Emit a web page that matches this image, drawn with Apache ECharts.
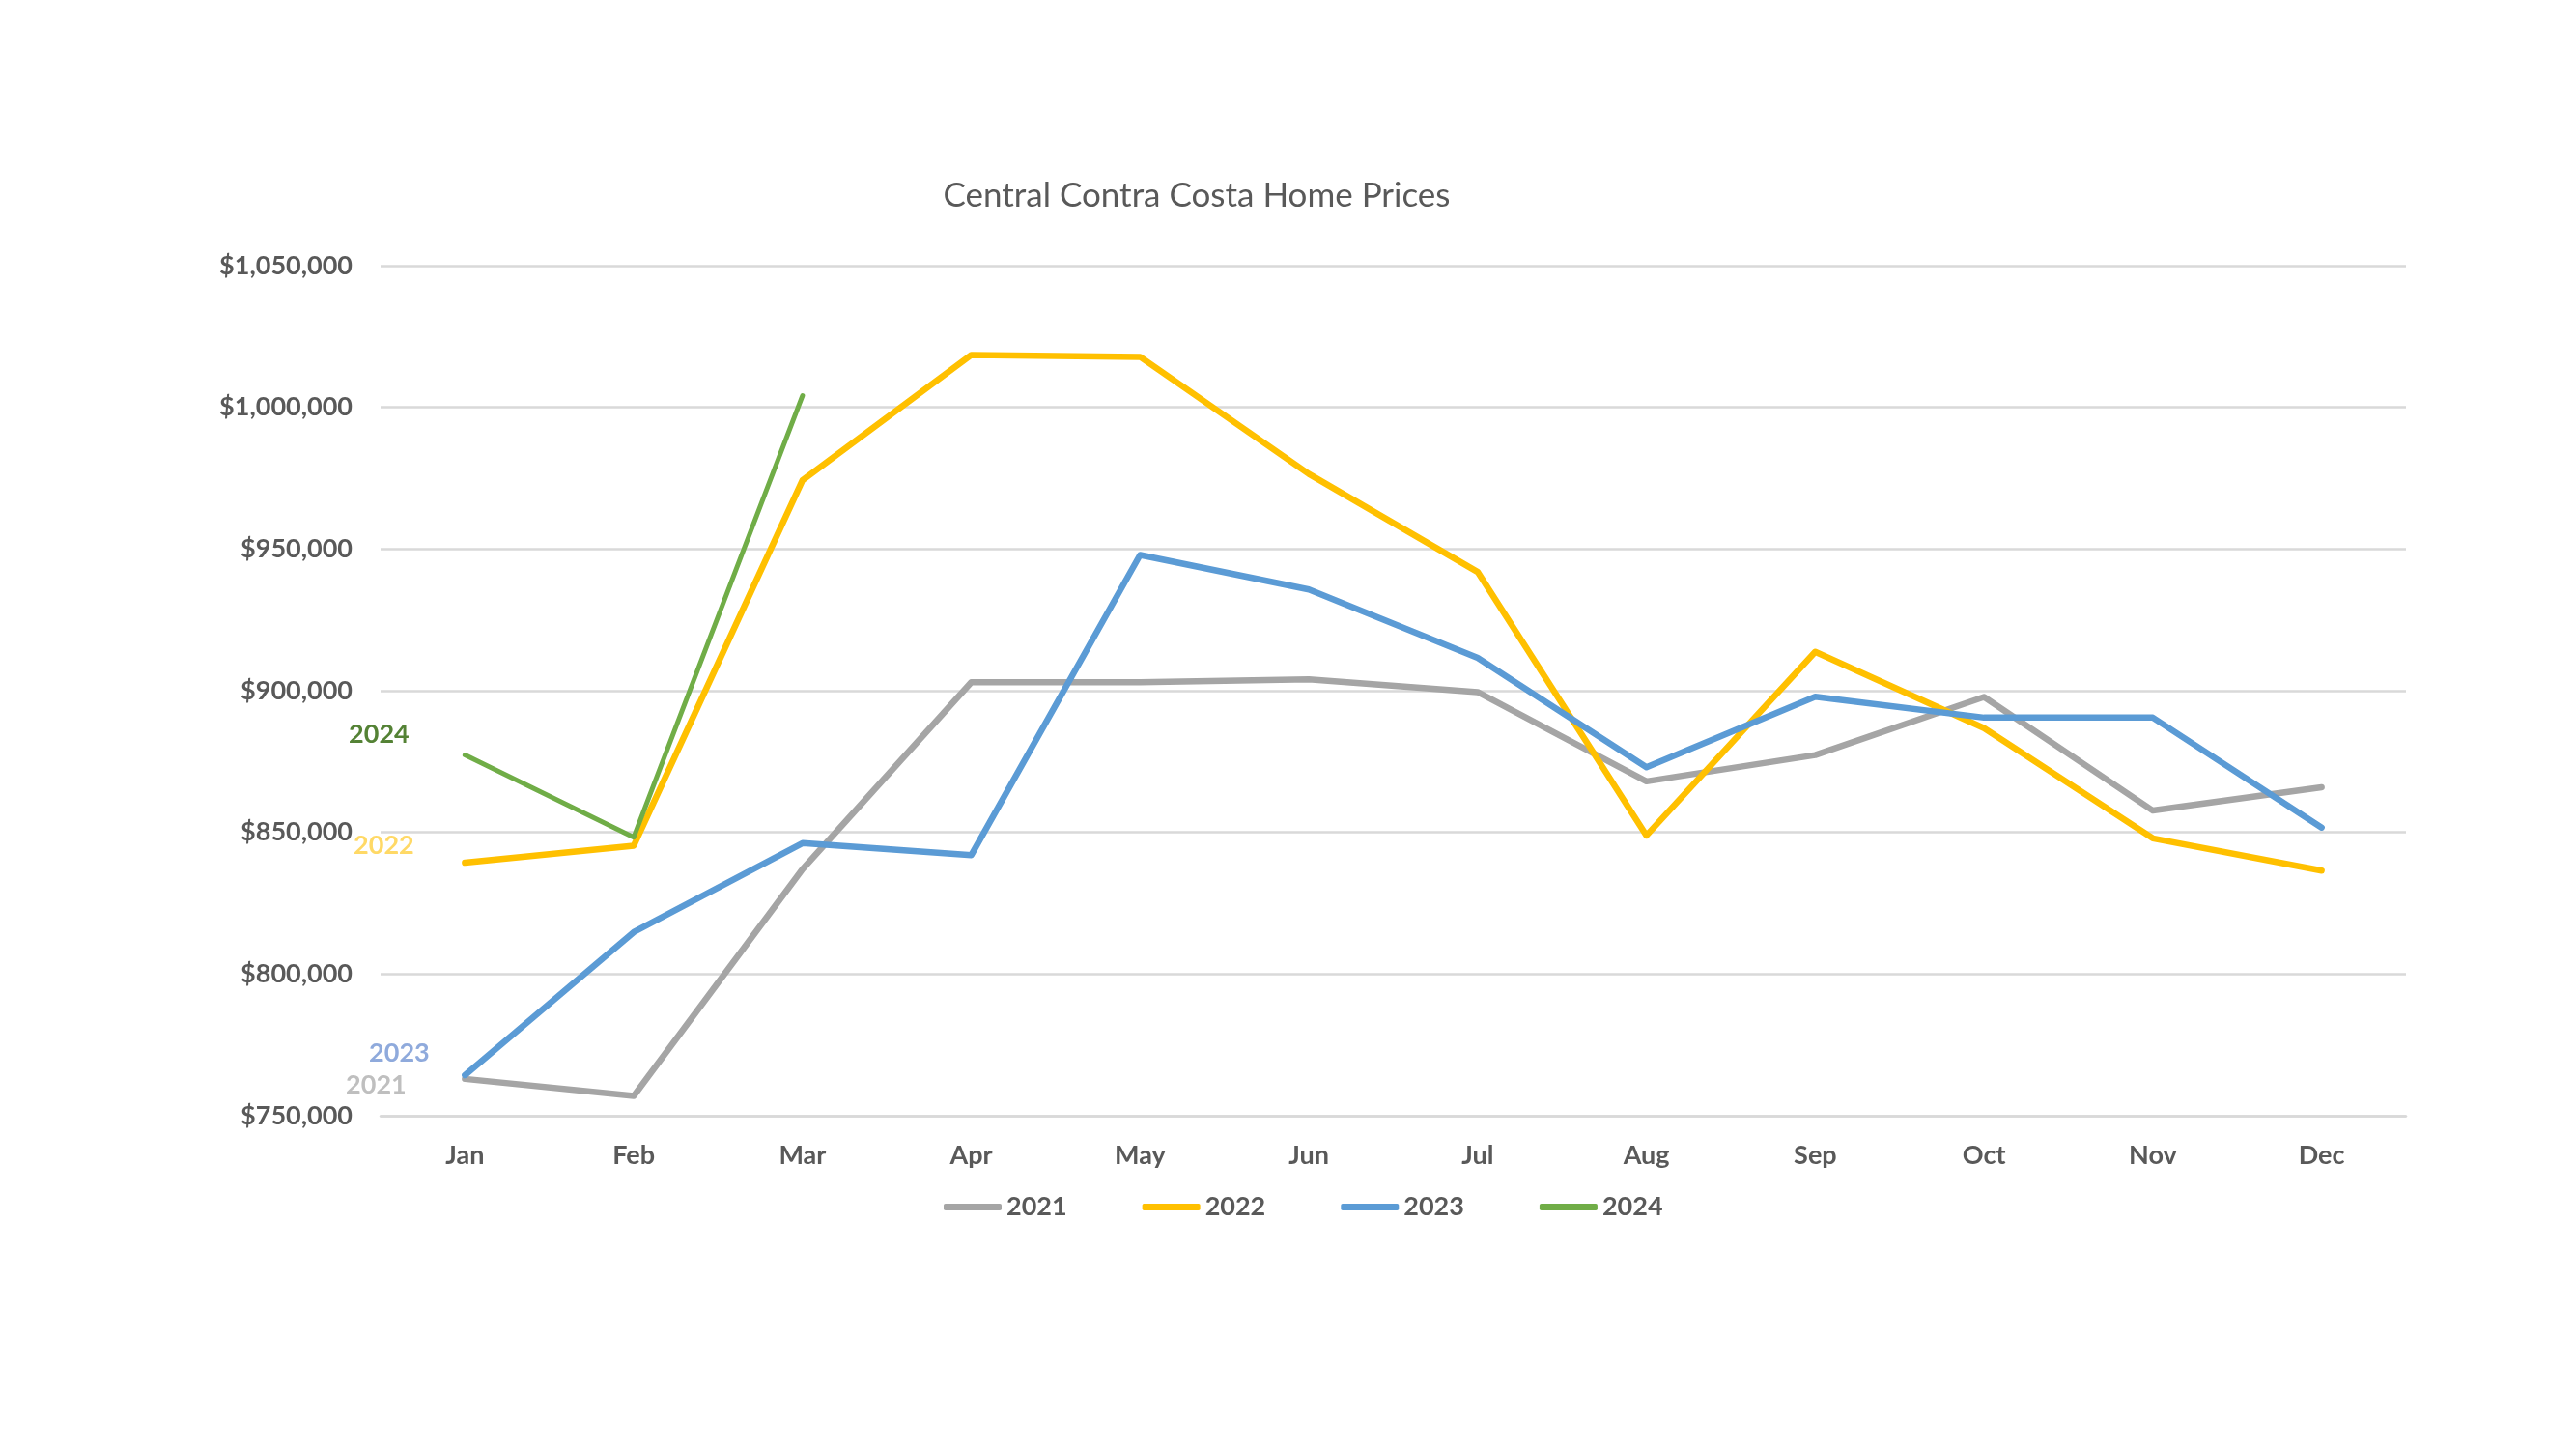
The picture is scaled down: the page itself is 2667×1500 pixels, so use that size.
<!DOCTYPE html>
<html>
<head>
<meta charset="utf-8">
<title>Central Contra Costa Home Prices</title>
<script src="https://cdn.jsdelivr.net/npm/echarts@6/dist/echarts.min.js"></script>
<style>
  html, body { margin: 0; padding: 0; background: #fff; }
  #chart { width: 2667px; height: 1500px; }
</style>
</head>
<body>
<div id="chart"></div>
<script>
// 月份
var months = ["Jan", "Feb", "Mar", "Apr", "May", "Jun", "Jul", "Aug", "Sep", "Oct", "Nov", "Dec"];

// 每年的房价
var prices2021 = [763000, 757000, 837000, 903000, 903000, 904000, 899500, 868000, 877300, 897800, 857700, 865900];
var prices2022 = [839300, 845300, 974300, 1018500, 1017800, 976500, 941900, 848900, 913700, 886800, 847900, 836500];
var prices2023 = [764300, 814800, 846200, 842000, 947900, 935700, 911600, 873000, 897900, 890500, 890500, 851700];
var prices2024 = [877300, 848300, 1004100];

var years = ["2021", "2022", "2023", "2024"];

var FONT = "Lato";
var TEXT = "#595959";

// 线和起点标签的样式
var looks = [
    { data: prices2021, color: "#A5A5A5", width: 6.5, labelColor: "#BFBFBF", offset: [-92, 6] },
    { data: prices2022, color: "#FFC000", width: 6.5, labelColor: "#FFD966", offset: [-84, -18] },
    { data: prices2023, color: "#5B9BD5", width: 6.5, labelColor: "#8FAADC", offset: [-68, -23] },
    { data: prices2024, color: "#70AD47", width: 5, labelColor: "#548235", offset: [-89, -21] }
];

var series = looks.map(function (s, k) {
    return {
        name: years[k],
        type: "line",
        symbol: "circle",
        symbolSize: 1,
        showSymbol: true,
        itemStyle: { color: s.color },
        lineStyle: { color: s.color, width: s.width, cap: "round", join: "round" },
        emphasis: { disabled: true },
        data: s.data.map(function (v, i) {
            if (i !== 0) {
                return v;
            }
            // 一月那一点左边写年份
            return {
                value: v,
                label: {
                    show: true,
                    position: "inside",
                    offset: s.offset,
                    formatter: years[k],
                    color: s.labelColor,
                    fontFamily: FONT,
                    fontWeight: "bold",
                    fontSize: 27
                }
            };
        })
    };
});

var chart = echarts.init(document.getElementById("chart"));

chart.setOption({
    animation: false,
    backgroundColor: "#ffffff",
    title: {
        text: "Central Contra Costa Home Prices",
        left: 1234,
        top: 180,
        textAlign: "center",
        textStyle: { fontFamily: FONT, fontWeight: "normal", fontSize: 35, color: TEXT }
    },
    legend: {
        data: years,
        left: 972,
        top: 1231,
        icon: "roundRect",
        itemWidth: 60,
        itemHeight: 7,
        itemGap: 78,
        textStyle: { fontFamily: FONT, fontWeight: "bold", fontSize: 27, color: TEXT }
    },
    grid: { left: 394, right: 176, top: 275, bottom: 345, containLabel: false },
    xAxis: {
        type: "category",
        data: months,
        boundaryGap: true,
        axisLine: { show: true, lineStyle: { color: "#D9D9D9", width: 2.5 } },
        axisTick: { show: false },
        axisLabel: { margin: 28, fontFamily: FONT, fontWeight: "bold", fontSize: 27, color: TEXT }
    },
    yAxis: {
        type: "value",
        min: 750000,
        max: 1050000,
        interval: 50000,
        axisLine: { show: false },
        axisTick: { show: false },
        splitLine: { lineStyle: { color: "#D9D9D9", width: 2.5 } },
        axisLabel: {
            margin: 29,
            fontFamily: FONT,
            fontWeight: "bold",
            fontSize: 27,
            color: TEXT,
            formatter: function (v) {
                return "$" + v.toLocaleString("en-US");
            }
        }
    },
    series: series
});
</script>
</body>
</html>
